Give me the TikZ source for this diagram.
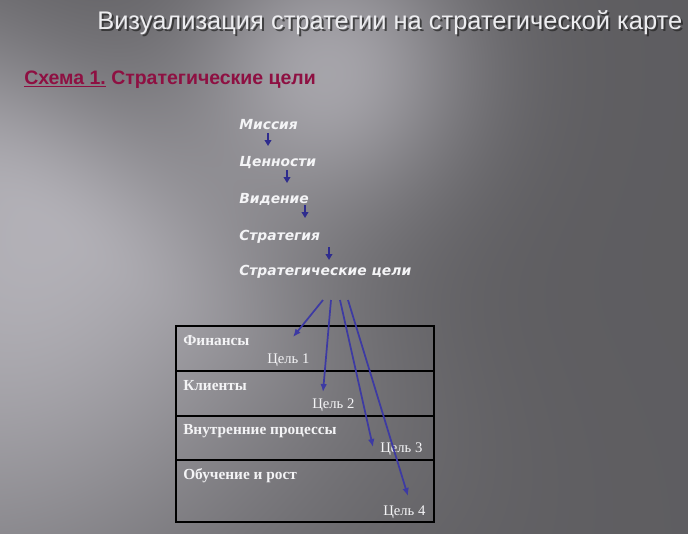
\documentclass[tikz,border=0pt]{standalone}
\usepackage{fontspec}
\setmainfont{Liberation Serif}
\newfontfamily\titlefont{Liberation Sans}
\newfontfamily\headfont{Liberation Sans}
\newfontfamily\chainfont{DejaVu Sans}
\usetikzlibrary{arrows.meta,positioning,calc}

\definecolor{schemered}{HTML}{8E1042}
\definecolor{arrowblue}{HTML}{3D3AA3}
\definecolor{stepblue}{HTML}{2E2C8E}
\definecolor{paper}{HTML}{F4F4F6}
\definecolor{titleink}{HTML}{EDEDF0}

% slide background: light diagonal streak on the left, dark on the right
\pgfdeclarefunctionalshading{slidebg}{\pgfpoint{0bp}{0bp}}{\pgfpoint{100bp}{100bp}}{}{
  75 exch sub 10.66 mul exch 25 sub 13.76 mul exch
  1 index 330 sub dup mul 1 index 70 sub dup mul add
  -19600 div 2.71828 exch exp 70 mul
  2 index 40 sub 2 index 230 sub
  1 index 0.819 mul 1 index 0.574 mul add
  2 index 0.574 mul 2 index 0.819 mul sub
  exch 320 div dup mul exch
  dup 0 gt {150 div} {420 div} ifelse dup mul
  add neg 2.71828 exch exp 84 mul
  exch pop exch pop add 94 add
  exch pop exch pop
  255 div dup dup 1.025 mul exch 0.99 mul exch
}

\tikzset{
    titletext/.style={anchor=base west, inner sep=0pt, font=\titlefont\fontsize{19.1}{22}\selectfont},
    schemetitle/.style={anchor=base west, inner sep=0pt, text=schemered, font=\headfont\bfseries\fontsize{14.6}{17}\selectfont},
    chainword/.style={anchor=base west, inner sep=0pt, text=paper, font=\chainfont\bfseries\itshape\fontsize{10.4}{12}\selectfont},
    steparrow/.style={draw=stepblue, line width=1.1pt, -{Triangle[length=4.5pt,width=5pt]}},
    goalarrow/.style={draw=arrowblue, line width=1.3pt, -{Latex[length=6pt,width=5pt]}},
    rowbox/.style={draw=black, line width=1.2pt, minimum width=193.5pt, inner sep=0pt, outer sep=0pt},
    rowtitle/.style={anchor=base west, inner sep=0pt, text=paper, font=\bfseries\fontsize{11.5}{13}\selectfont},
    goaltext/.style={anchor=base west, inner sep=0pt, text=paper, font=\fontsize{11}{13}\selectfont}
}

\begin{document}
\begin{tikzpicture}[x=0.75pt, y=-0.75pt]
    \useasboundingbox (0,0) rectangle (688,533);
    \shade[shading=slidebg] (0,0) rectangle (688,533);

    % headings
    \node[titletext, text=black!85, opacity=0.75] (titleshadow) at (99,31) {Визуализация стратегии на стратегической карте};
    \node[titletext, text=titleink] (title) at (97,29) {Визуализация стратегии на стратегической карте};
    \node[schemetitle] (scheme) at (24,84) {\underline{Схема 1.} Стратегические цели};

    % chain from mission to goals
    \node[chainword] (mis) at (239,129) {Миссия};
    \node[chainword] (cen) at (239,166) {Ценности};
    \node[chainword] (vid) at (239,203) {Видение};
    \node[chainword] (str) at (239,240) {Стратегия};
    \node[chainword] (goals) at (239,275) {Стратегические цели};

    \foreach \word/\dx/\dy [count=\i] in {mis/29/4, cen/48/4, vid/66/2, str/90/7} {
        \coordinate (top\i) at ($(\word.base west)+(\dx,\dy)$);
        \coordinate (tip\i) at ($(top\i)+(0,13)$);
        \draw[steparrow] (top\i) -- (tip\i);
    }

    % perspectives table
    \node[rowbox, minimum height=33.75pt, anchor=north west] (fin) at (176,326) {};
    \node[rowbox, minimum height=33.75pt, below=0pt of fin] (cli) {};
    \node[rowbox, minimum height=33pt, below=0pt of cli] (proc) {};
    \node[rowbox, minimum height=46.5pt, below=0pt of proc] (grow) {};

    \node[rowtitle] (finT) at ($(fin.north west)+(7,19)$) {Финансы};
    \node[rowtitle] (cliT) at ($(cli.north west)+(7,19)$) {Клиенты};
    \node[rowtitle] (procT) at ($(proc.north west)+(7,18)$) {Внутренние процессы};
    \node[rowtitle] (growT) at ($(grow.north west)+(7,19)$) {Обучение и рост};

    \node[goaltext] (g1) at ($(fin.north west)+(91,37)$) {Цель 1};
    \node[goaltext] (g2) at ($(cli.north west)+(136,37)$) {Цель 2};
    \node[goaltext] (g3) at ($(proc.north west)+(204,36)$) {Цель 3};
    \node[goaltext] (g4) at ($(grow.north west)+(207,55)$) {Цель 4};

    % goals arrows
    \coordinate (s1) at ($(goals.base west)+(84,25)$);
    \coordinate (s2) at ($(goals.base west)+(92,25)$);
    \coordinate (s3) at ($(goals.base west)+(101,25)$);
    \coordinate (s4) at ($(goals.base west)+(109,25)$);
    \coordinate (e1) at ($(g1.base west)+(26,-26)$);
    \coordinate (e2) at ($(g2.base west)+(11,-16)$);
    \coordinate (e3) at ($(g3.base west)+(-7,-5)$);
    \coordinate (e4) at ($(g4.base west)+(25,-19)$);
    \draw[goalarrow] (s1) -- (e1);
    \draw[goalarrow] (s2) -- (e2);
    \draw[goalarrow] (s3) -- (e3);
    \draw[goalarrow] (s4) -- (e4);
\end{tikzpicture}
\end{document}
